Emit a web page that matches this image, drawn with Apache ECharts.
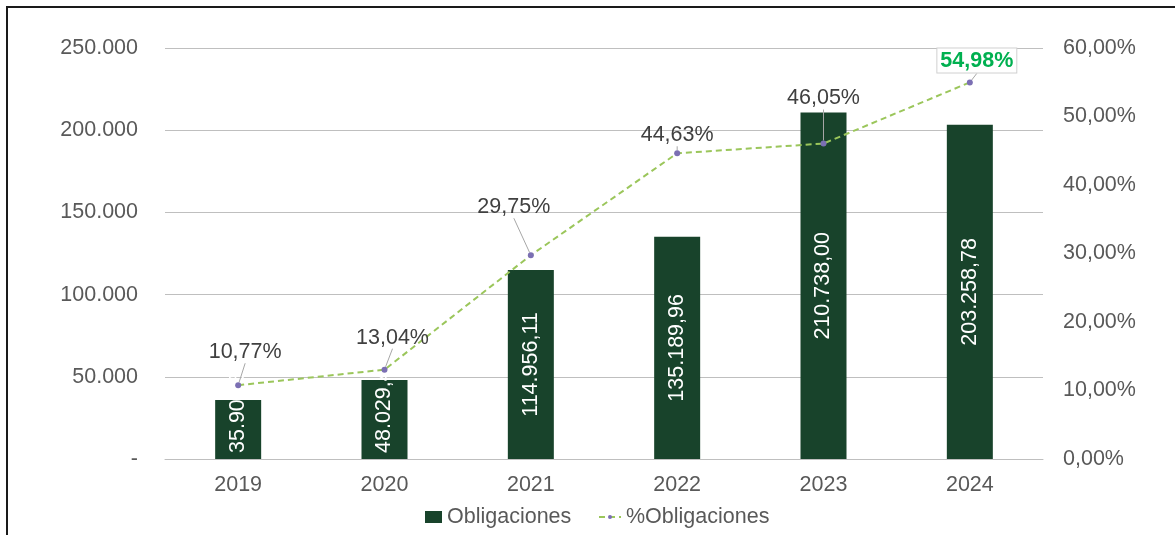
<!DOCTYPE html>
<html>
<head>
<meta charset="utf-8">
<script src="https://cdn.jsdelivr.net/npm/echarts@6/dist/echarts.min.js"></script>
<style>
html,body{margin:0;padding:0;background:#fff;}
#wrap{position:relative;width:1175px;height:535px;overflow:hidden;}
#chart{position:absolute;left:0;top:0;width:1175px;height:535px;}
#frame{position:absolute;left:6px;top:6px;width:1300px;height:1000px;border-left:2px solid #1a1a1a;border-top:2px solid #1a1a1a;pointer-events:none;}
</style>
</head>
<body>
<div id="wrap"><div id="chart"></div><div id="frame"></div></div>
<script>
const years = ['2019','2020','2021','2022','2023','2024'];
const obligaciones = [35904.52, 48029.41, 114956.11, 135189.96, 210738.00, 203258.78];
const pctObligaciones = [10.77, 13.04, 29.75, 44.63, 46.05, 54.98];
const leftTicks = [0, 50000, 100000, 150000, 200000, 250000];
const rightTicks = [0, 10, 20, 30, 40, 50, 60];

const FONT = '"Liberation Sans", Arial, sans-serif';
const FS = 21.5;
function thousands(s){ return s.replace(/\B(?=(\d{3})+(?!\d))/g, '.'); }
function fmtMoney(v){ const p = v.toFixed(2).split('.'); return thousands(p[0]) + ',' + p[1]; }
function fmtPct(v){ return v.toFixed(2).replace('.', ',') + '%'; }

// label displacement (style) for the line labels, relative to the default 'top' spot
const lineLabelMove = [[7,-14],[8,-13],[-17,-29],[0,1],[0,-26],[7,-2]];

const barData = obligaciones.map((v,i) => {
  const item = {value: v};
  if (i < 2) {
    item.label = {position: 'insideBottom', rotate: 90, align: 'left', verticalAlign: 'middle', distance: 6};
  }
  return item;
});
const lineData = pctObligaciones.map((v,i) => {
  const item = {value: v};
  if (i === pctObligaciones.length - 1) {
    item.label = {color: '#00B050', fontWeight: 'bold', backgroundColor: '#fff', borderColor: '#D0D0D0', borderWidth: 1, padding: [2,3,0,3]};
  }
  return item;
});

const legendText = {fontFamily: FONT, fontSize: FS, color: '#595959'};
const chart = echarts.init(document.getElementById('chart'), null, {renderer: 'canvas'});
chart.setOption({
  animation: false,
  textStyle: {fontFamily: FONT},
  grid: {left: 165, right: 132, top: 48, bottom: 76, containLabel: false},
  legend: [
    {
      bottom: 2, left: 420, itemWidth: 17, itemHeight: 12,
      textStyle: legendText,
      data: [{name: 'Obligaciones', icon: 'rect'}]
    },
    {
      bottom: 2, left: 593, itemWidth: 22, itemHeight: 5,
      textStyle: legendText,
      data: [{name: '%Obligaciones'}]
    }
  ],
  xAxis: {
    type: 'category', data: years,
    axisLine: {lineStyle: {color: '#BFBFBF', width: 1}},
    axisTick: {show: false},
    axisLabel: {fontFamily: FONT, fontSize: FS, color: '#595959', margin: 15}
  },
  yAxis: [
    {
      type: 'value', min: 0, max: 250000, interval: 50000,
      axisLine: {show: false}, axisTick: {show: false},
      splitLine: {lineStyle: {color: '#BFBFBF', width: 1}},
      axisLabel: {fontFamily: FONT, fontSize: FS, color: '#595959', margin: 27,
        formatter: v => v === 0 ? '-' : thousands(String(v))}
    },
    {
      type: 'value', min: 0, max: 60, interval: 10, position: 'right',
      axisLine: {show: false}, axisTick: {show: false}, splitLine: {show: false},
      axisLabel: {fontFamily: FONT, fontSize: FS, color: '#595959', margin: 20,
        formatter: v => fmtPct(v)}
    }
  ],
  series: [
    {
      name: 'Obligaciones', type: 'bar', yAxisIndex: 0, data: barData,
      barWidth: 46,
      itemStyle: {color: '#18432B'},
      label: {show: true, position: 'inside', rotate: 90, color: '#fff', fontFamily: FONT, fontSize: FS,
        formatter: p => fmtMoney(p.value)}
    },
    {
      name: '%Obligaciones', type: 'line', yAxisIndex: 1, data: lineData,
      symbol: 'circle', symbolSize: 6,
      itemStyle: {color: '#7B6FB3'},
      lineStyle: {color: '#9BC65B', width: 2, type: [6,4]},
      label: {show: true, position: 'top', distance: 5, color: '#404040', fontFamily: FONT, fontSize: FS,
        formatter: p => fmtPct(p.value)},
      labelLine: {show: true, lineStyle: {color: '#A6A6A6', width: 1}},
      labelLayout: p => ({dx: lineLabelMove[p.dataIndex][0], dy: lineLabelMove[p.dataIndex][1]}),
      z: 5
    }
  ]
});
</script>
</body>
</html>
